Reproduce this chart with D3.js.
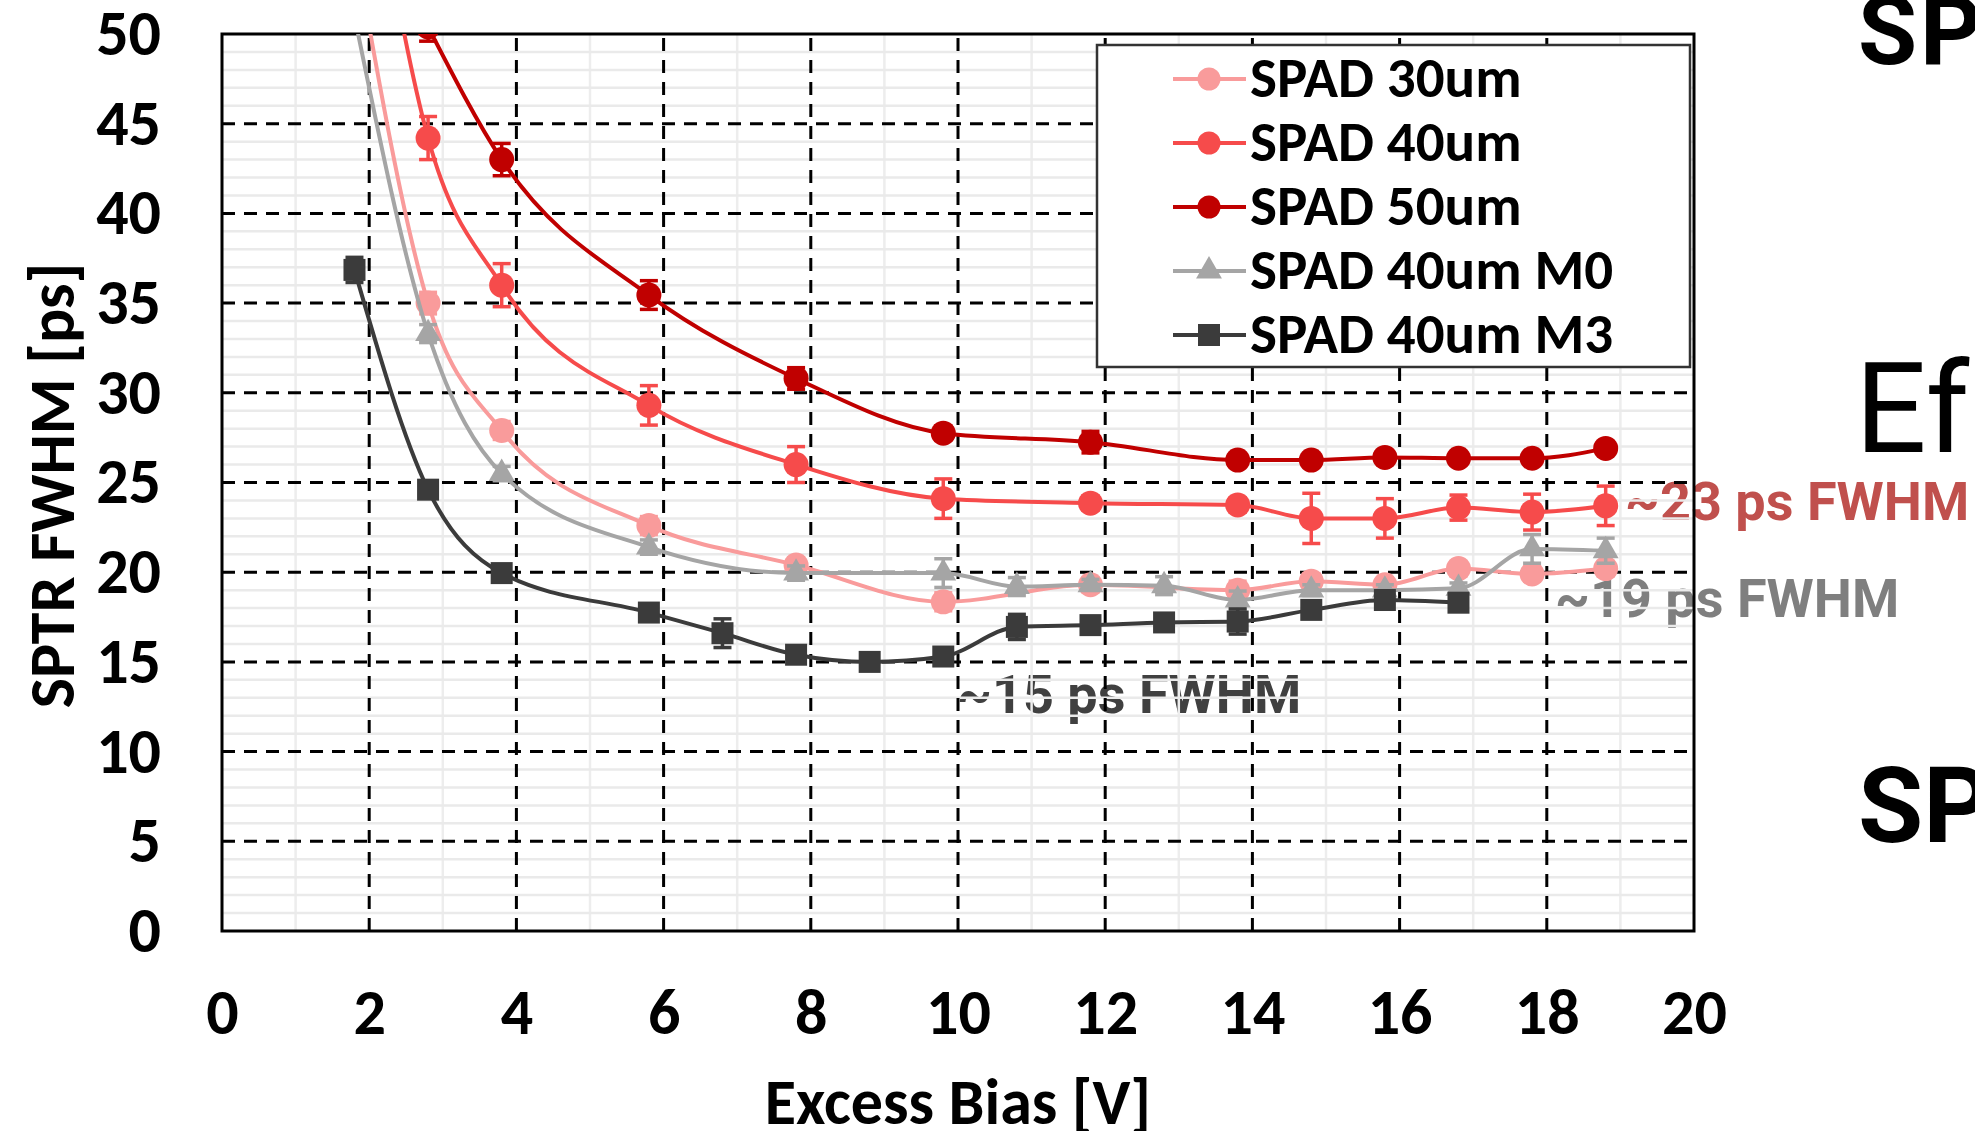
<!DOCTYPE html>
<html>
<head>
<meta charset="utf-8">
<script src="https://cdn.jsdelivr.net/npm/d3@7"></script>
<style>
  body { margin: 0; background: #fff; }
  svg { display: block; }
</style>
</head>
<body>
<div id="chart"></div>
<script>
// ---- data ----
const xTicks = [0, 2, 4, 6, 8, 10, 12, 14, 16, 18, 20];
const yTicks = [0, 5, 10, 15, 20, 25, 30, 35, 40, 45, 50];

const seriesNames = ["SPAD 30um", "SPAD 40um", "SPAD 50um", "SPAD 40um M0", "SPAD 40um M3"];
const seriesColors = ["#F99B9B", "#F64B4B", "#C00000", "#A5A5A5", "#3B3B3B"];
const seriesShapes = ["circle", "circle", "circle", "triangle", "square"];

const spad30_x   = [1.8, 2.8, 3.8, 5.8, 7.8, 9.8, 11.8, 13.8, 14.8, 15.8, 16.8, 17.8, 18.8];
const spad30_y   = [55, 35.0, 27.9, 22.6, 20.4, 18.35, 19.3, 19.0, 19.5, 19.3, 20.2, 19.9, 20.2];
const spad30_err = [0, 0.6, 0.5, 0.5, 0.4, 0.5, 0.4, 0.5, 0.4, 0.4, 0.4, 0.4, 0.4];

const spad40_x   = [1.8, 2.8, 3.8, 5.8, 7.8, 9.8, 11.8, 13.8, 14.8, 15.8, 16.8, 17.8, 18.8];
const spad40_y   = [66, 44.2, 36.0, 29.3, 26.0, 24.1, 23.85, 23.75, 23.0, 23.0, 23.6, 23.35, 23.7];
const spad40_err = [0, 1.2, 1.2, 1.1, 1.0, 1.1, 0.4, 0.4, 1.4, 1.1, 0.7, 1.0, 1.1];

const spad50_x   = [2.8, 3.8, 5.8, 7.8, 9.8, 11.8, 13.8, 14.8, 15.8, 16.8, 17.8, 18.8];
const spad50_y   = [50.4, 43.0, 35.45, 30.8, 27.75, 27.25, 26.25, 26.25, 26.4, 26.35, 26.35, 26.9];
const spad50_err = [0.8, 0.9, 0.8, 0.6, 0.4, 0.6, 0.3, 0.3, 0.3, 0.3, 0.3, 0.3];

const m0_x   = [1.8, 2.8, 3.8, 5.8, 7.8, 9.8, 10.8, 11.8, 12.8, 13.8, 14.8, 15.8, 16.8, 17.8, 18.8];
const m0_y   = [51, 33.3, 25.5, 21.4, 19.95, 19.95, 19.2, 19.3, 19.25, 18.45, 19.0, 19.0, 19.1, 21.3, 21.2];
const m0_err = [0, 0.5, 0.4, 0.4, 0.4, 0.8, 0.5, 0.3, 0.5, 0.5, 0.3, 0.3, 0.3, 0.8, 0.7];

const m3_x   = [1.8, 2.8, 3.8, 5.8, 6.8, 7.8, 8.8, 9.8, 10.8, 11.8, 12.8, 13.8, 14.8, 15.8, 16.8];
const m3_y   = [36.85, 24.6, 19.95, 17.75, 16.6, 15.4, 15.0, 15.3, 16.95, 17.05, 17.2, 17.25, 17.9, 18.45, 18.3];
const m3_err = [0.7, 0.4, 0.3, 0.3, 0.8, 0.3, 0.3, 0.3, 0.7, 0.3, 0.3, 0.7, 0.3, 0.5, 0.3];

const annotations = [
    {text: "~23 ps FWHM", x: 1625, y: 520, color: "#C0504D"},
    {text: "~19 ps FWHM", x: 1555, y: 617, color: "#7F7F7F"},
    {text: "~15 ps FWHM", x: 957, y: 713, color: "#404040"}
];

// slide text beside the chart, cut by the page edge
const sideTexts = [
    {text: "SP", x: 1858, y: 64, size: 96, weight: 700, spacing: 3},
    {text: "Ef", x: 1855, y: 452, size: 126, weight: 400, spacing: 0},
    {text: "SP", x: 1858, y: 842, size: 106, weight: 700, spacing: 0}
];

// build series table
const xs = [spad30_x, spad40_x, spad50_x, m0_x, m3_x];
const ys = [spad30_y, spad40_y, spad50_y, m0_y, m3_y];
const errs = [spad30_err, spad40_err, spad50_err, m0_err, m3_err];
const series = seriesNames.map((name, i) => ({
    name: name,
    color: seriesColors[i],
    shape: seriesShapes[i],
    values: xs[i].map((x, j) => ({x: x, y: ys[i][j], e: errs[i][j]}))
}));

const W = 1975, H = 1131;
const plotLeft = 222, plotRight = 1694, plotTop = 34, plotBottom = 931;
const axisFont = "Carlito, Lato, 'Open Sans', sans-serif";

const svg = d3.select("#chart").append("svg")
    .attr("width", W)
    .attr("height", H);

const xScale = d3.scaleLinear().domain([0, 20]).range([plotLeft, plotRight]);
const yScale = d3.scaleLinear().domain([0, 50]).range([plotBottom, plotTop]);

svg.selectAll(".side")
    .data(sideTexts)
    .join("text")
    .attr("class", "side")
    .attr("x", d => d.x)
    .attr("y", d => d.y)
    .style("font-family", "Roboto")
    .style("font-weight", d => d.weight)
    .style("font-size", d => d.size + "px")
    .style("letter-spacing", d => d.spacing + "px")
    .text(d => d.text);

// annotation texts sit under the chart's grid
svg.selectAll(".note")
    .data(annotations)
    .join("text")
    .attr("class", "note")
    .attr("x", d => d.x)
    .attr("y", d => d.y)
    .style("font-family", "Roboto")
    .style("font-weight", 700)
    .style("font-size", "54px")
    .style("fill", d => d.color)
    .text(d => d.text);

// minor grid
const minorX = d3.range(1, 20, 2);
const minorY = d3.range(1, 50).filter(v => v % 5 !== 0);
svg.append("g").selectAll("line")
    .data(minorX)
    .join("line")
    .attr("x1", d => xScale(d)).attr("x2", d => xScale(d))
    .attr("y1", plotTop).attr("y2", plotBottom)
    .attr("stroke", "#ededed").attr("stroke-width", 2.5);
svg.append("g").selectAll("line")
    .data(minorY)
    .join("line")
    .attr("x1", plotLeft).attr("x2", plotRight)
    .attr("y1", d => yScale(d)).attr("y2", d => yScale(d))
    .attr("stroke", "#eaeaea").attr("stroke-width", 2.5);

// major dashed grid
svg.append("g").selectAll("line")
    .data(xTicks.slice(1, -1))
    .join("line")
    .attr("x1", d => xScale(d)).attr("x2", d => xScale(d))
    .attr("y1", plotBottom).attr("y2", plotTop)
    .attr("stroke", "#000").attr("stroke-width", 3)
    .attr("stroke-dasharray", "13,9");
svg.append("g").selectAll("line")
    .data(yTicks.slice(1, -1))
    .join("line")
    .attr("x1", plotLeft).attr("x2", plotRight)
    .attr("y1", d => yScale(d)).attr("y2", d => yScale(d))
    .attr("stroke", "#000").attr("stroke-width", 3)
    .attr("stroke-dasharray", "13,9");

// frame
svg.append("rect")
    .attr("x", plotLeft).attr("y", plotTop)
    .attr("width", plotRight - plotLeft).attr("height", plotBottom - plotTop)
    .attr("fill", "none").attr("stroke", "#000").attr("stroke-width", 3);

// axes
const yAxis = svg.append("g")
    .attr("transform", `translate(${plotLeft},0)`)
    .call(d3.axisLeft(yScale).tickValues(yTicks).tickSize(0).tickPadding(61));
const xAxis = svg.append("g")
    .attr("transform", `translate(0,${plotBottom})`)
    .call(d3.axisBottom(xScale).tickValues(xTicks).tickSize(0).tickPadding(58));
[xAxis, yAxis].forEach(a => {
    a.select(".domain").remove();
    a.selectAll("text")
        .style("font-family", axisFont)
        .style("font-weight", 700)
        .style("font-size", "64px")
        .style("fill", "#000");
});

svg.append("text")
    .attr("x", (plotLeft + plotRight) / 2)
    .attr("y", 1124)
    .attr("text-anchor", "middle")
    .style("font-family", axisFont).style("font-weight", 700).style("font-size", "64px")
    .text("Excess Bias [V]");
svg.append("text")
    .attr("transform", `translate(74,${(plotTop + plotBottom) / 2 + 3}) rotate(-90)`)
    .attr("text-anchor", "middle")
    .style("font-family", axisFont).style("font-weight", 700).style("font-size", "64px")
    .text("SPTR FWHM [ps]");

// series
svg.append("clipPath").attr("id", "plotclip")
    .append("rect")
    .attr("x", plotLeft).attr("y", plotTop)
    .attr("width", plotRight - plotLeft).attr("height", plotBottom - plotTop);

const plot = svg.append("g").attr("clip-path", "url(#plotclip)");

const line = d3.line()
    .x(d => xScale(d.x))
    .y(d => yScale(d.y))
    .curve(d3.curveMonotoneX);

function drawMarker(sel, shape, color, size) {
    if (shape === "circle") {
        sel.append("circle").attr("r", size).attr("fill", color);
    } else if (shape === "square") {
        sel.append("rect")
            .attr("x", -size).attr("y", -size)
            .attr("width", size * 2).attr("height", size * 2)
            .attr("fill", color);
    } else {
        sel.append("path")
            .attr("d", d3.symbol().type(d3.symbolTriangle).size(size * size * 2.4)())
            .attr("fill", color);
    }
}

series.forEach(s => {
    const g = plot.append("g");
    g.append("path")
        .datum(s.values)
        .attr("fill", "none")
        .attr("stroke", s.color)
        .attr("stroke-width", 4)
        .attr("d", line);

    const bars = g.selectAll(".err")
        .data(s.values.filter(d => d.e > 0))
        .join("g")
        .attr("class", "err")
        .attr("stroke", s.color)
        .attr("stroke-width", 3.5);
    bars.append("line")
        .attr("x1", d => xScale(d.x)).attr("x2", d => xScale(d.x))
        .attr("y1", d => yScale(d.y - d.e)).attr("y2", d => yScale(d.y + d.e));
    bars.append("line")
        .attr("x1", d => xScale(d.x) - 9).attr("x2", d => xScale(d.x) + 9)
        .attr("y1", d => yScale(d.y + d.e)).attr("y2", d => yScale(d.y + d.e));
    bars.append("line")
        .attr("x1", d => xScale(d.x) - 9).attr("x2", d => xScale(d.x) + 9)
        .attr("y1", d => yScale(d.y - d.e)).attr("y2", d => yScale(d.y - d.e));

    g.selectAll(".pt")
        .data(s.values)
        .join("g")
        .attr("class", "pt")
        .attr("transform", d => `translate(${xScale(d.x)},${yScale(d.y)})`)
        .each(function () { drawMarker(d3.select(this), s.shape, s.color, s.shape === "circle" ? 12.5 : 11); });
});

// legend
const legend = svg.append("g");
legend.append("rect")
    .attr("x", 1097).attr("y", 45)
    .attr("width", 593).attr("height", 322)
    .attr("fill", "#fff")
    .attr("stroke", "#333").attr("stroke-width", 2.5);

const items = legend.selectAll(".item")
    .data(series)
    .join("g")
    .attr("class", "item")
    .attr("transform", (d, i) => `translate(0,${79 + i * 64})`);
items.append("line")
    .attr("x1", 1173).attr("x2", 1246)
    .attr("stroke", d => d.color).attr("stroke-width", 4);
items.each(function (d) {
    const m = d3.select(this).append("g").attr("transform", "translate(1209,0)");
    drawMarker(m, d.shape, d.color, d.shape === "circle" ? 11.5 : 11);
});
items.append("text")
    .attr("x", 1250).attr("y", 18)
    .style("font-family", axisFont)
    .style("font-weight", 700)
    .style("font-size", "57px")
    .text(d => d.name);
</script>
</body>
</html>
